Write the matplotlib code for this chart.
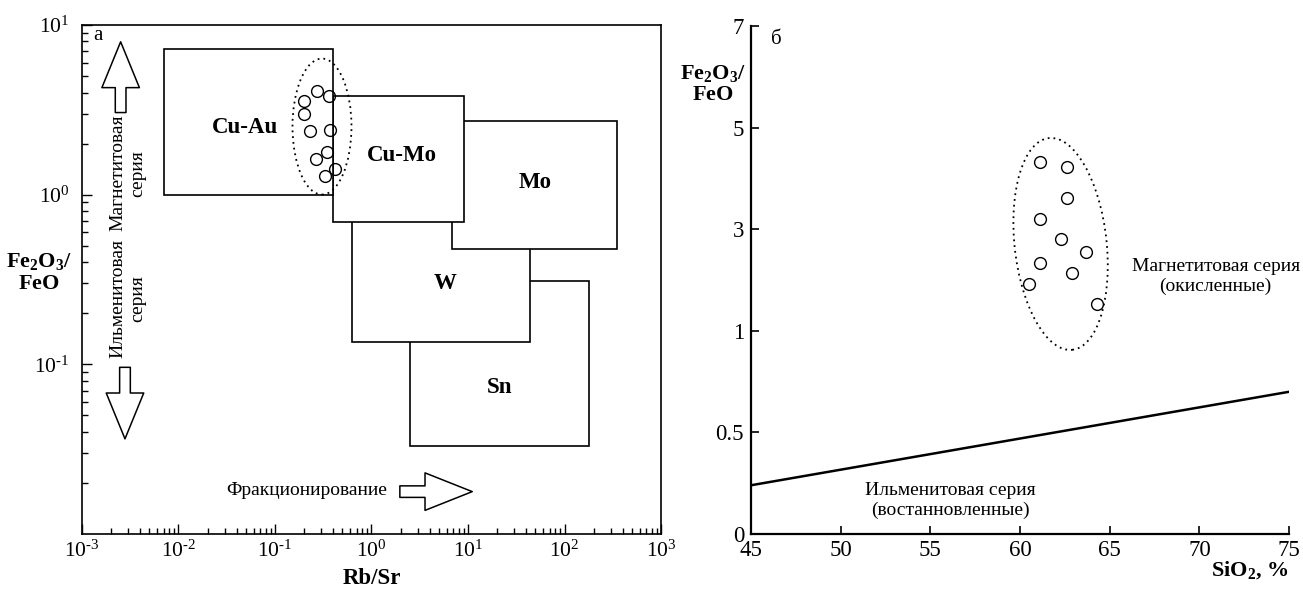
import numpy as np
import matplotlib
matplotlib.use('Agg')
import matplotlib.pyplot as plt
from matplotlib.patches import Rectangle, Ellipse
from matplotlib.transforms import ScaledTranslation
from matplotlib.ticker import FuncFormatter

plt.rcParams['font.family'] = 'Liberation Serif'
plt.rcParams['mathtext.fontset'] = 'custom'
plt.rcParams['mathtext.rm'] = 'Liberation Serif'
plt.rcParams['mathtext.it'] = 'Liberation Serif:italic'
plt.rcParams['mathtext.bf'] = 'Liberation Serif:bold'

# --- panel a: Rb/Sr vs Fe2O3/FeO, ore fields (drawn bottom to top)
fields = ['Sn', 'W', 'Mo', 'Cu-Mo', 'Cu-Au']
field_x0 = [2.5, 0.63, 6.8, 0.40, 0.007]
field_x1 = [180, 44, 350, 9.0, 0.40]
field_y0 = [0.033, 0.135, 0.48, 0.69, 1.0]
field_y1 = [0.31, 1.0, 2.7, 3.8, 7.2]
label_x = [21, 5.8, 50, 2.06, 0.049]
label_y = [0.073, 0.30, 1.18, 1.70, 2.49]

rbsr = [0.270, 0.361, 0.201, 0.201, 0.232, 0.374, 0.346, 0.264, 0.416, 0.327]
ratio_a = [4.09, 3.84, 3.57, 2.97, 2.36, 2.40, 1.79, 1.62, 1.42, 1.29]

# --- panel b: SiO2 vs Fe2O3/FeO
sio2 = [61.1, 62.6, 62.6, 61.1, 62.3, 63.7, 61.1, 62.9, 60.5, 64.3]
ratio_b = [4.32, 4.22, 3.61, 3.20, 2.81, 2.55, 2.34, 2.13, 1.93, 1.52]
boundary_sio2 = [45, 75]
boundary_ratio = [0.24, 0.70]
yb_ticks = [0, 0.5, 1, 3, 5, 7]
yb_labels = ['0', '0.5', '1', '3', '5', '7']

fig = plt.figure(figsize=(13.03, 5.91), dpi=100)
ax1 = fig.add_axes([0.0629, 0.0964, 0.4444, 0.8613])
ax2 = fig.add_axes([0.5764, 0.0964, 0.4129, 0.8596])


def pow10(v, pos):
    e = int(round(np.log10(v)))
    if e < 0:
        return r'$10^{\text{-%d}}$' % (-e)
    return r'$10^{%d}$' % e


# ---------------- panel a
ax1.set_xscale('log')
ax1.set_yscale('log')
ax1.set_xlim(1e-3, 1e3)
ax1.set_ylim(1e-2, 1e1)
ax1.set_yticks([0.1, 1, 10])
ax1.xaxis.set_major_formatter(FuncFormatter(pow10))
ax1.yaxis.set_major_formatter(FuncFormatter(pow10))
ax1.tick_params(which='both', direction='in', top=False, right=False, width=1)
ax1.tick_params(which='major', length=7, labelsize=15.5)
ax1.tick_params(which='minor', length=4)
ax1.tick_params(axis='x', pad=5)
ax1.tick_params(axis='y', pad=9)
for s in ax1.spines.values():
    s.set_linewidth(1.2)

for i, name in enumerate(fields):
    ax1.add_patch(Rectangle((field_x0[i], field_y0[i]), field_x1[i] - field_x0[i],
                            field_y1[i] - field_y0[i], fc='white', ec='black',
                            lw=1.2, zorder=2 + i * 0.1))
    ax1.text(label_x[i], label_y[i], name, fontsize=16.5, fontweight='bold',
             ha='center', va='center', zorder=3)

ax1.plot(rbsr, ratio_a, 'o', mfc='none', mec='black', ms=8.5, mew=1, zorder=4)
ax1.add_patch(Ellipse((0, 0), 0.59, 1.36, fill=False, ec='black', lw=1.3,
                      ls=(0, (1, 2.2)), zorder=4,
                      transform=fig.dpi_scale_trans + ScaledTranslation(0.307, 2.52, ax1.transData)))

arrow_kw = dict(arrowstyle='simple,head_length=33,head_width=27,tail_width=7.7',
                fc='white', ec='black', lw=1.1, shrinkA=0, shrinkB=0, mutation_scale=1)
ax1.annotate('', xy=(0.0668, 0.967), xytext=(0.0668, 0.828), xycoords='axes fraction',
             textcoords='axes fraction', arrowprops=arrow_kw)
ax1.annotate('', xy=(0.0743, 0.187), xytext=(0.0743, 0.3275), xycoords='axes fraction',
             textcoords='axes fraction', arrowprops=arrow_kw)
ax1.annotate('', xy=(0.674, 0.0833), xytext=(0.549, 0.0833), xycoords='axes fraction',
             textcoords='axes fraction',
             arrowprops=dict(arrow_kw, arrowstyle='simple,head_length=34,head_width=27,tail_width=8.3'))

ax1.text(0.0786, 0.709, 'Магнетитовая\nсерия', rotation=90, fontsize=14,
         ha='center', va='center', multialignment='center', transform=ax1.transAxes)
ax1.text(0.0786, 0.462, 'Ильменитовая\nсерия', rotation=90, fontsize=14,
         ha='center', va='center', multialignment='center', transform=ax1.transAxes)
ax1.text(0.527, 0.0864, 'Фракционирование', fontsize=14, ha='right', va='center',
         transform=ax1.transAxes)
ax1.text(0.0276, 0.980, 'а', fontsize=15, ha='center', va='center', transform=ax1.transAxes)

ax1.set_xlabel('Rb/Sr', fontsize=16.5, fontweight='bold')
ax1.xaxis.set_label_coords(0.5, -0.0864)
ax1.xaxis.label.set_va('center')
ax1.set_ylabel(r'$\mathbf{Fe_2O_3/}$' + '\n' + r'$\mathbf{FeO}$', fontsize=16,
               rotation=0, ha='center', va='center')
ax1.yaxis.set_label_coords(-0.0743, 0.513)

# ---------------- panel b (uneven y scale: 0-0.5-1 then 1-3-5-7)
def fwd(v):
    return np.interp(v, yb_ticks, np.arange(len(yb_ticks)))


def inv(p):
    return np.interp(p, np.arange(len(yb_ticks)), yb_ticks)


ax2.set_yscale('function', functions=(fwd, inv))
ax2.set_xlim(45, 75)
ax2.set_ylim(0, 7)
ax2.set_xticks([45, 50, 55, 60, 65, 70, 75])
ax2.set_yticks(yb_ticks)
ax2.set_yticklabels(yb_labels)
ax2.minorticks_off()
ax2.tick_params(direction='in', length=6, width=1.2, labelsize=16.5)
ax2.tick_params(axis='x', pad=4)
ax2.tick_params(axis='y', pad=5)
ax2.spines['top'].set_visible(False)
ax2.spines['right'].set_visible(False)
ax2.spines['left'].set_linewidth(1.6)
ax2.spines['bottom'].set_linewidth(1.6)

ax2.plot(boundary_sio2, boundary_ratio, color='black', lw=1.8, zorder=3)
ax2.plot(sio2, ratio_b, 'o', mfc='none', mec='black', ms=8.5, mew=1, zorder=4)
ax2.add_patch(Ellipse((0, 0), 0.92, 2.13, angle=6.3, fill=False, ec='black', lw=1.3,
                      ls=(0, (1, 2.2)), zorder=4,
                      transform=fig.dpi_scale_trans + ScaledTranslation(62.26, 2.71, ax2.transData)))

ax2.text(0.8634, 0.506, 'Магнетитовая серия\n(окисленные)', fontsize=14,
         ha='center', va='center', multialignment='center', transform=ax2.transAxes)
ax2.text(0.37, 0.0669, 'Ильменитовая серия\n(востанновленные)', fontsize=14,
         ha='center', va='center', multialignment='center', transform=ax2.transAxes)
ax2.text(0.0465, 0.974, 'б', fontsize=15, ha='center', va='center', transform=ax2.transAxes)
ax2.text(1.0, -0.0709, r'$\mathbf{SiO_2}$' + ', %', fontsize=16, fontweight='bold',
         ha='right', va='center', transform=ax2.transAxes)
ax2.set_ylabel(r'$\mathbf{Fe_2O_3/}$' + '\n' + r'$\mathbf{FeO}$', fontsize=16,
               rotation=0, ha='center', va='center')
ax2.yaxis.set_label_coords(-0.0706, 0.886)

fig.savefig('out.png', dpi=100, facecolor='white')
